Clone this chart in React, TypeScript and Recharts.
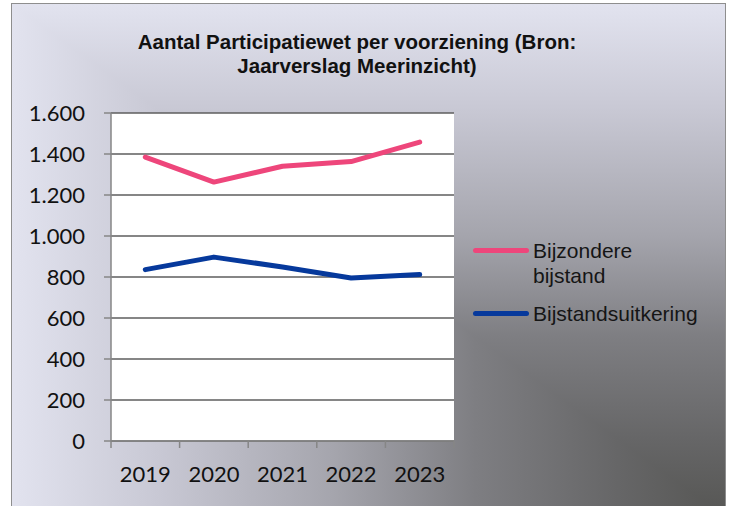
import React from 'react';
import { LineChart, Line, XAxis, YAxis, CartesianGrid, Legend } from 'recharts';

const years = ['2019', '2020', '2021', '2022', '2023'];
const bijzondereBijstand = [1385, 1263, 1340, 1363, 1458];
const bijstandsuitkering = [836, 897, 849, 795, 812];
const yTicks = [0, 200, 400, 600, 800, 1000, 1200, 1400, 1600];

const SERIES = [
  { key: 'bijzondere', name: 'Bijzondere bijstand', color: '#ee467b', values: bijzondereBijstand },
  { key: 'uitkering', name: 'Bijstandsuitkering', color: '#06399c', values: bijstandsuitkering },
];

const data = years.map((year, i) => {
  const row: Record<string, string | number> = { year };
  SERIES.forEach((s) => {
    row[s.key] = s.values[i];
  });
  return row;
});

const W = 732;
const H = 506;
const PLOT_LEFT = 111;
const PLOT_RIGHT = 454;
const STEP = (PLOT_RIGHT - PLOT_LEFT) / years.length;
const AXIS_COLOR = '#868686';
const TICK_FONT = 'Lato, "Open Sans", sans-serif';

const fmt = (n: number) => String(n).replace(/\B(?=(\d{3})+(?!\d))/g, '.');

const XTick = (props: any) => {
  const { x, y, index } = props;
  return (
    <g>
      <line x1={x - STEP / 2} x2={x - STEP / 2} y1={y} y2={y + 7} stroke={AXIS_COLOR} strokeWidth={1.5} />
      {index === years.length - 1 && (
        <line x1={x + STEP / 2} x2={x + STEP / 2} y1={y} y2={y + 7} stroke={AXIS_COLOR} strokeWidth={1.5} />
      )}
      <text x={x} y={y + 41} textAnchor="middle" fill="#111" fontSize={22} fontFamily={TICK_FONT}>
        {props.payload.value}
      </text>
    </g>
  );
};

const LegendContent = () => (
  <div style={{ fontFamily: '"Liberation Sans", Arial, sans-serif', fontSize: 21, color: '#151515' }}>
    {SERIES.map((s) => (
      <div key={s.key} style={{ display: 'flex', alignItems: 'flex-start', marginBottom: 13 }}>
        <div
          style={{
            width: 56,
            height: 5,
            borderRadius: 3,
            background: s.color,
            marginTop: 10,
            marginRight: 4,
            flex: 'none',
          }}
        />
        <div style={{ width: 150, lineHeight: '25px', whiteSpace: 'normal' }}>{s.name}</div>
      </div>
    ))}
  </div>
);

const stops = '#565654 0%, #666667 15%, #7e7e82 35%, #a5a5ad 55%, #c9c9d5 80%, #e2e3ef 100%';

export default function App() {
  return (
    <div style={{ position: 'fixed', left: 0, top: 0, width: W, height: H, overflow: 'hidden', background: '#fff' }}>
      <div
        style={{
          position: 'absolute',
          left: 11,
          top: 3,
          width: 713,
          height: 512,
          border: '1.5px solid #8e8e8e',
          overflow: 'hidden',
          isolation: 'isolate',
        }}
      >
        <div style={{ position: 'absolute', inset: 0, background: `linear-gradient(to left, ${stops})` }} />
        <div
          style={{
            position: 'absolute',
            inset: 0,
            background: `linear-gradient(to top, ${stops})`,
            mixBlendMode: 'lighten',
          }}
        />
      </div>
      <div
        style={{
          position: 'absolute',
          left: 57,
          top: 30,
          width: 600,
          textAlign: 'center',
          fontFamily: '"Liberation Sans", Arial, sans-serif',
          fontWeight: 'bold',
          fontSize: 20.5,
          lineHeight: '23.5px',
          color: '#111',
        }}
      >
        Aantal Participatiewet per voorziening (Bron:
        <br />
        Jaarverslag Meerinzicht)
      </div>
      <div style={{ position: 'absolute', left: 0, top: 0 }}>
        <LineChart width={W} height={H} data={data} margin={{ top: 113, right: 28, bottom: 0, left: 0 }}>
          <CartesianGrid vertical={false} stroke="#5e5e5e" strokeWidth={1.4} fill="#ffffff" fillOpacity={1} />
          <XAxis
            dataKey="year"
            height={65}
            padding={{ left: STEP / 2, right: STEP / 2 }}
            tickLine={false}
            tickSize={0}
            tickMargin={0}
            axisLine={{ stroke: AXIS_COLOR, strokeWidth: 1.5 }}
            tick={<XTick />}
            interval={0}
          />
          <YAxis
            width={PLOT_LEFT}
            domain={[0, 1600]}
            ticks={yTicks}
            interval={0}
            tickFormatter={fmt}
            tickSize={7}
            tickMargin={19}
            tickLine={{ stroke: AXIS_COLOR, strokeWidth: 1.5 }}
            axisLine={{ stroke: AXIS_COLOR, strokeWidth: 1.5 }}
            tick={{ fill: '#111', fontSize: 22, fontFamily: TICK_FONT }}
          />
          <Legend
            layout="vertical"
            align="right"
            verticalAlign="top"
            wrapperStyle={{ left: 473, top: 238, width: 250 }}
            content={<LegendContent />}
          />
          {SERIES.map((s) => (
            <Line
              key={s.key}
              dataKey={s.key}
              name={s.name}
              stroke={s.color}
              strokeWidth={5}
              strokeLinecap="round"
              strokeLinejoin="round"
              dot={false}
              activeDot={false}
              isAnimationActive={false}
            />
          ))}
        </LineChart>
      </div>
    </div>
  );
}
